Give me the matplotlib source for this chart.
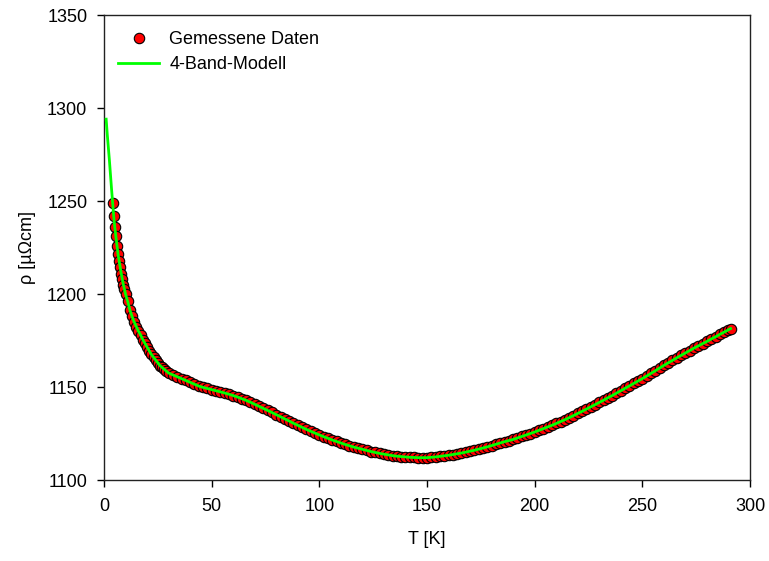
import numpy as np
import matplotlib
matplotlib.use("Agg")
import matplotlib.pyplot as plt

plt.rcParams['font.family'] = ['Liberation Sans', 'DejaVu Sans']
plt.rcParams['font.size'] = 13

T_mess = [4.0, 4.5, 5.0, 5.5, 6.0, 6.5, 7.0, 7.5, 8.0, 8.5, 9.0, 9.5,
          10, 11, 12, 13, 14, 15, 16, 17, 18, 19, 20, 21, 22, 23, 24, 25,
          26, 27, 28, 29, 30, 32, 34, 36, 38, 40, 42, 44, 46, 48, 50,
          52, 54, 56, 58, 60, 62, 64, 66, 68, 70, 72, 74, 76, 78, 80,
          82, 84, 86, 88, 90, 92, 94, 96, 98, 100, 102, 104, 106, 108, 110,
          112, 114, 116, 118, 120, 122, 124, 126, 128, 130, 132, 134, 136, 138, 140,
          142, 144, 146, 148, 150, 152, 154, 156, 158, 160, 162, 164, 166, 168, 170,
          172, 174, 176, 178, 180, 182, 184, 186, 188, 190, 192, 194, 196, 198, 200,
          202, 204, 206, 208, 210, 212, 214, 216, 218, 220, 222, 224, 226, 228, 230,
          232, 234, 236, 238, 240, 242, 244, 246, 248, 250, 252, 254, 256, 258, 260,
          262, 264, 266, 268, 270, 272, 274, 276, 278, 280, 282, 284, 286, 288, 290, 291]
rho_mess = [1249, 1242, 1236, 1231, 1226, 1221.5, 1218, 1214.5, 1211, 1208, 1205, 1202.5,
            1200, 1196, 1191.5, 1188, 1185, 1182.5, 1180, 1178, 1175.5, 1173.5, 1171.5, 1169.5,
            1167.5, 1166, 1164.5, 1163, 1161.5, 1160.5, 1159.5, 1158.5, 1157.5, 1156.5, 1155.5,
            1154.5, 1153.5, 1152.5, 1151.5, 1150.5, 1149.8, 1149.2, 1148.6,
            1148, 1147.4, 1146.8, 1146.1, 1145.4, 1144.6, 1143.7, 1142.8, 1141.8, 1140.7,
            1139.6, 1138.5, 1137.4, 1136.3, 1135.1,
            1134, 1132.8, 1131.7, 1130.5, 1129.4, 1128.3, 1127.2, 1126.2, 1125.2, 1124.2,
            1123.3, 1122.4, 1121.5, 1120.7, 1119.9,
            1119.1, 1118.4, 1117.7, 1117.1, 1116.5, 1115.9, 1115.3, 1114.8, 1114.3, 1113.9,
            1113.5, 1113.1, 1112.8, 1112.6, 1112.4,
            1112.2, 1112.1, 1112.0, 1112.0, 1112.0, 1112.2, 1112.4, 1112.7, 1113.0, 1113.3,
            1113.7, 1114.1, 1114.5, 1115.0, 1115.5,
            1116.0, 1116.6, 1117.2, 1117.8, 1118.5, 1119.2, 1119.9, 1120.6, 1121.2, 1121.8,
            1122.6, 1123.4, 1124.2, 1125.0, 1125.8,
            1126.7, 1127.6, 1128.5, 1129.4, 1130.4, 1131.4, 1132.4, 1133.5, 1134.6, 1135.8,
            1136.9, 1138.1, 1139.3, 1140.5, 1141.7,
            1142.9, 1144.2, 1145.4, 1146.7, 1148.0, 1149.3, 1150.6, 1151.9, 1153.2, 1154.5,
            1155.9, 1157.3, 1158.7, 1160.2, 1161.6,
            1163.0, 1164.3, 1165.7, 1167.0, 1168.3, 1169.6, 1170.9, 1172.1, 1173.3, 1174.5,
            1175.8, 1177.0, 1178.3, 1179.5, 1180.8, 1181.4]

# Modellkurve: Anfang unterhalb der Messdaten, danach deckungsgleich
T_start = [1.0, 1.5, 2.0, 2.5, 3.0, 3.5]
rho_start = [1294, 1286, 1279, 1272, 1264, 1256.5]
T_modell = T_start + T_mess
rho_modell = rho_start + rho_mess

fig = plt.figure(figsize=(7.69, 5.61), dpi=100)
ax = fig.add_axes([104/769, 1 - 480/561, 646/769, 465/561])

ax.plot(T_mess, rho_mess, 'o', color='red', markeredgecolor='black',
        markeredgewidth=0.8, markersize=7.5, label='Gemessene Daten', zorder=2)
ax.plot(T_modell, rho_modell, '-', color='#00ff00', linewidth=2,
        label='4-Band-Modell', zorder=3)

ax.set_xlim(0, 300)
ax.set_ylim(1100, 1350)
ax.set_xticks([0, 50, 100, 150, 200, 250, 300])
ax.set_yticks([1100, 1150, 1200, 1250, 1300, 1350])

ax.tick_params(direction='out', length=5, width=1, top=False, right=False)
ax.tick_params(axis='y', pad=7)
ax.tick_params(axis='x', pad=8)
for s in ax.spines.values():
    s.set_linewidth(1.0)
    s.set_color('#222222')

ax.set_xlabel('T [K]')
ax.set_ylabel('ρ [µΩcm]')
ax.xaxis.set_label_coords(0.5, -0.11)
ax.yaxis.set_label_coords(-0.105, 0.5)

ax.legend(loc='upper left', bbox_to_anchor=(0.002, 0.992), frameon=False,
          numpoints=1, handlelength=2.3, handletextpad=0.55, labelspacing=0.45,
          borderaxespad=0.3, fontsize=13)

fig.savefig('out.png', dpi=100)
